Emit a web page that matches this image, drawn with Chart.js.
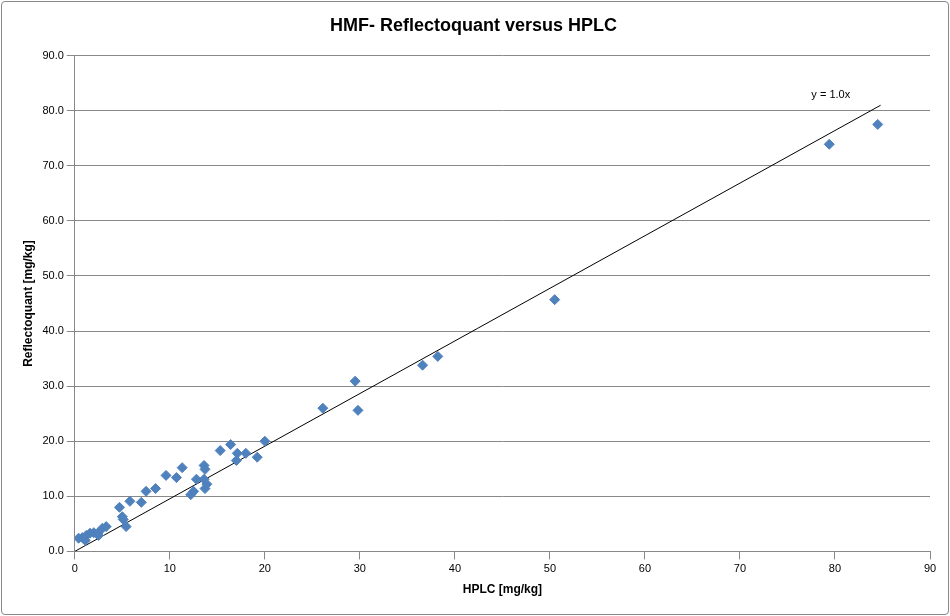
<!DOCTYPE html>
<html><head><script src="https://cdn.jsdelivr.net/npm/chart.js"></script>
<style>body{margin:0;background:#fff}#w{position:absolute;left:1px;top:1px;width:946px;height:612px;border:1px solid #888;border-radius:4px}</style>
</head><body><div id="w"><canvas id="c"></canvas></div>
<script>
const hplc=[0.4,0.8,1.2,1.1,1.6,2.0,2.4,2.5,2.9,3.3,4.7,5.0,5.1,5.4,5.8,7.0,7.5,8.5,9.6,10.7,11.3,12.2,12.5,12.8,13.6,13.7,13.6,13.7,13.9,15.3,16.4,17.1,17.0,18.0,19.2,20.0,26.1,29.5,29.8,36.6,38.2,50.5,79.4,84.5];
const reflecto=[2.4,2.5,2.9,2.0,3.3,3.4,3.3,2.9,4.2,4.5,8.0,6.3,5.8,4.5,9.1,8.9,10.9,11.4,13.8,13.4,15.2,10.3,10.9,13.1,15.6,14.9,13.1,11.4,12.2,18.3,19.4,17.8,16.5,17.8,17.1,20.0,26.0,30.9,25.6,33.8,35.4,45.7,73.9,77.5];
const trendX=[0,84.8];
const slope=0.955;
const pts=hplc.map((x,i)=>({x,y:reflecto[i]}));
const trend=trendX.map(x=>({x,y:x*slope}));
const labelPlug={id:'lbl',afterDatasetsDraw(ch){const c=ch.ctx,xs=ch.scales.x,ys=ch.scales.y;c.save();c.font='11px "Liberation Sans"';c.fillStyle='#000';c.textAlign='right';c.fillText('y = 1.0x',xs.getPixelForValue(81.6),ys.getPixelForValue(82.3));c.restore();}};
new Chart(document.getElementById('c'),{type:'scatter',
data:{datasets:[{data:pts,pointStyle:'rectRot',radius:5,backgroundColor:'#4f81bd',borderColor:'#4f81bd',borderWidth:1},
{type:'line',data:trend,borderColor:'#000',borderWidth:1,pointRadius:0,fill:false}]},
options:{responsive:true,maintainAspectRatio:false,animation:false,
layout:{padding:{top:3,right:18,bottom:13,left:15}},
plugins:{legend:{display:false},tooltip:{enabled:false},
title:{display:true,text:'HMF- Reflectoquant versus HPLC',font:{family:'"Liberation Sans"',size:18,weight:'bold'},color:'#000',padding:{top:10,bottom:19}}},
scales:{x:{type:'linear',min:0,max:90,ticks:{stepSize:10,color:'#000',font:{family:'"Liberation Sans"',size:11}},grid:{drawOnChartArea:false,color:'#888'},border:{color:'#888'},
title:{display:true,text:'HPLC [mg/kg]',color:'#000',font:{family:'"Liberation Sans"',size:12,weight:'bold'}}},
y:{min:0,max:90,ticks:{stepSize:10,color:'#000',font:{family:'"Liberation Sans"',size:11},callback:v=>v.toFixed(1)},grid:{color:'#888'},border:{color:'#888'},
title:{display:true,text:'Reflectoquant [mg/kg]',color:'#000',font:{family:'"Liberation Sans"',size:12,weight:'bold'}}}}},
plugins:[labelPlug]});
</script></body></html>
